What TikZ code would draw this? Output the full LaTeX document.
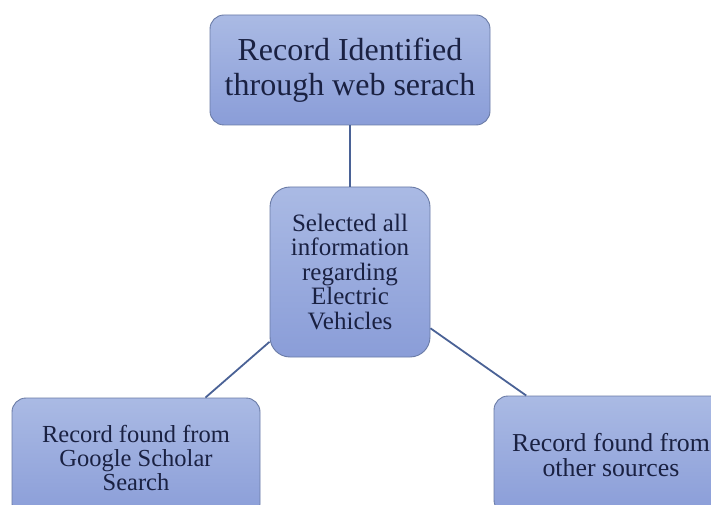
\documentclass[tikz,border=0pt]{standalone}
\usepackage{fontspec}
\setmainfont{Liberation Serif}
\usepackage{tikz}

\definecolor{boxtop}{HTML}{AABAE4}
\definecolor{boxbot}{HTML}{8A9DD8}
\definecolor{boxedge}{HTML}{6A7BA6}
\definecolor{linkcol}{HTML}{4A6296}
\definecolor{inkcol}{HTML}{1A2142}

\tikzset{
  recbox/.style={draw=boxedge, line width=0.9pt, top color=boxtop, bottom color=boxbot,
    rounded corners=14pt, align=center, inner sep=0pt, text=inkcol},
  link/.style={draw=linkcol, line width=1.8pt}
}

\begin{document}
\begin{tikzpicture}[x=1pt,y=1pt]
			\useasboundingbox (0,0) rectangle (711,504);
			\clip (0,0) rectangle (711,504);
			\fill[white] (0,0) rectangle (711,504);
			% boxes
			\node[recbox, minimum width=280pt, minimum height=110pt,
			  font=\fontsize{32}{35}\selectfont] (web) at (350,434)
			  {Record Identified\\through web serach};
			\node[recbox, rounded corners=20pt, minimum width=160pt, minimum height=170pt,
			  font=\fontsize{25}{24.5}\selectfont] (sel) at (350,232)
			  {Selected all\\information\\regarding\\Electric\\Vehicles};
			\node[recbox, minimum width=248pt, minimum height=120pt,
			  font=\fontsize{24.5}{24}\selectfont] (gs) at (136,46)
			  {Record found from\\Google Scholar\\Search};
			\node[recbox, minimum width=234pt, minimum height=118pt,
			  font=\fontsize{25.8}{25}\selectfont] (oth) at (611,49)
			  {Record found from\\other sources};
			% links
			\draw[link] (web) -- (sel);
			\draw[link] (sel) -- (gs);
			\draw[link] (sel) -- (oth);
		\end{tikzpicture}
\end{document}
